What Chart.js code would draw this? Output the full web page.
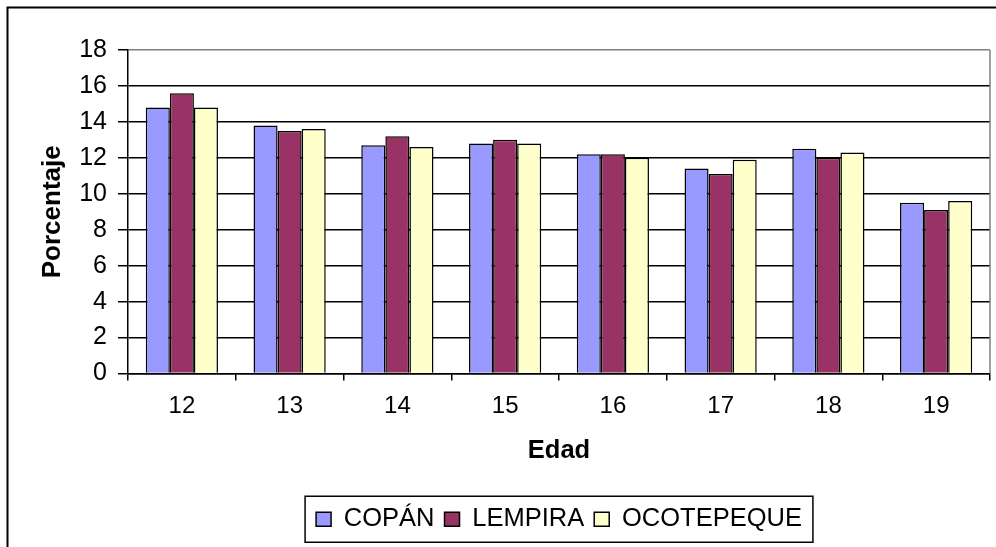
<!DOCTYPE html>
<html lang="es">
<head>
    <meta charset="UTF-8">
    <title>Porcentaje por edad</title>
    <script src="https://cdn.jsdelivr.net/npm/chart.js"></script>
    <style>
        body {
            margin: 0;
            padding: 0;
            background: #fff;
            overflow: hidden;
        }
        canvas {
            display: block;
        }
    </style>
</head>
<body>
    <canvas id="chart" width="996" height="547"></canvas>

    <script>
        // datos
        const edades = ['12', '13', '14', '15', '16', '17', '18', '19'];
        const copan = [14.8, 13.8, 12.7, 12.8, 12.2, 11.4, 12.5, 9.5];
        const lempira = [15.6, 13.5, 13.2, 13.0, 12.2, 11.1, 12.0, 9.1];
        const ocotepeque = [14.8, 13.6, 12.6, 12.8, 12.0, 11.9, 12.3, 9.6];

        const FONT = '"Liberation Sans", Arial, sans-serif';

        // marco exterior, borde gris del area y marco de la leyenda
        const frames = {
            id: 'frames',
            afterLayout(chart) {
                // la leyenda va centrada bajo el area del grafico
                const lg = chart.legend;
                const a = chart.chartArea;
                lg.left = a.left;
                lg.right = a.right;
                lg.width = a.right - a.left;
            },
            beforeDraw(chart) {
                const ctx = chart.ctx;
                ctx.save();
                ctx.fillStyle = '#fff';
                ctx.fillRect(0, 0, chart.width, chart.height);
                ctx.strokeStyle = '#000';
                ctx.lineWidth = 2;
                ctx.strokeRect(7.5, 7.5, 2000, 2000);
                ctx.restore();
            },
            afterDraw(chart) {
                const ctx = chart.ctx;
                const a = chart.chartArea;
                ctx.save();
                ctx.strokeStyle = '#808080';
                ctx.lineWidth = 1.5;
                ctx.beginPath();
                ctx.moveTo(a.right, a.top);
                ctx.lineTo(a.right, a.bottom);
                ctx.stroke();

                const boxes = chart.legend.legendHitBoxes;
                if (boxes && boxes.length) {
                    const x0 = Math.min(...boxes.map(b => b.left)) - 11;
                    const x1 = Math.max(...boxes.map(b => b.left + b.width)) + 11;
                    const cy = boxes[0].top + boxes[0].height / 2;
                    ctx.strokeStyle = '#000';
                    ctx.lineWidth = 1.5;
                    ctx.strokeRect(x0, cy - 23, x1 - x0, 46);
                }
                ctx.restore();
            }
        };

        new Chart(document.getElementById('chart'), {
            type: 'bar',
            data: {
                labels: edades,
                datasets: [
                    { label: 'COPÁN', data: copan, backgroundColor: '#9999FF' },
                    { label: 'LEMPIRA', data: lempira, backgroundColor: '#993366' },
                    { label: 'OCOTEPEQUE', data: ocotepeque, backgroundColor: '#FFFFCC' }
                ]
            },
            options: {
                responsive: false,
                animation: false,
                layout: {
                    padding: { left: 0, top: 50, right: 6, bottom: 5 }
                },
                datasets: {
                    bar: {
                        borderColor: '#000',
                        borderWidth: 1.5,
                        categoryPercentage: 0.67,
                        barPercentage: 1
                    }
                },
                scales: {
                    x: {
                        offset: true,
                        afterFit: s => { s.height = 123; },
                        grid: {
                            offset: true,
                            drawOnChartArea: false,
                            drawTicks: true,
                            tickLength: 7,
                            color: '#000',
                            lineWidth: 1.5
                        },
                        border: { color: '#000', width: 1.5 },
                        ticks: {
                            color: '#000',
                            padding: 11,
                            font: { family: FONT, size: 24 }
                        },
                        title: {
                            display: true,
                            text: 'Edad',
                            color: '#000',
                            padding: { top: 0, bottom: 30 },
                            font: { family: FONT, size: 25.5, weight: 'bold' }
                        }
                    },
                    y: {
                        min: 0,
                        max: 18,
                        afterFit: s => { s.width = 128; },
                        grid: {
                            color: c => (c.tick && c.tick.value === 18 ? '#808080' : '#000'),
                            tickColor: '#000',
                            lineWidth: 1.5,
                            tickLength: 10
                        },
                        border: { color: '#000', width: 1.5 },
                        ticks: {
                            stepSize: 2,
                            color: '#000',
                            padding: 11,
                            font: { family: FONT, size: 25 }
                        },
                        title: {
                            display: true,
                            text: 'Porcentaje',
                            color: '#000',
                            padding: { top: 37, bottom: 0 },
                            font: { family: FONT, size: 26, weight: 'bold' }
                        }
                    }
                },
                plugins: {
                    legend: {
                        position: 'bottom',
                        labels: {
                            color: '#000',
                            boxWidth: 15,
                            boxHeight: 14,
                            padding: 10,
                            font: { family: FONT, size: 25.5 }
                        }
                    },
                    tooltip: { enabled: false }
                }
            },
            plugins: [frames]
        });
    </script>
</body>
</html>
